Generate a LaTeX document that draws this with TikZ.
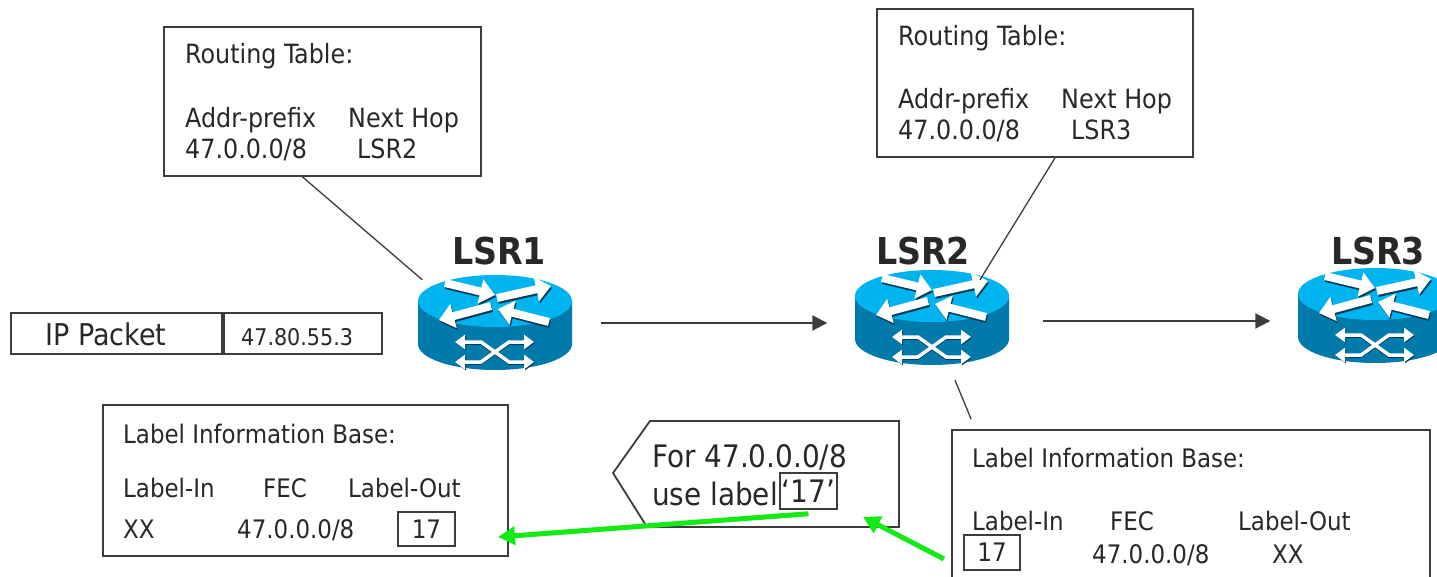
\documentclass[tikz,border=0pt]{standalone}
\usepackage{fontspec}
\setmainfont{DejaVu Sans Condensed}
\usepackage{tikz}
\usetikzlibrary{arrows.meta}
\usetikzlibrary{positioning}
\usepackage{xcolor}
\definecolor{TextGray}{RGB}{40,40,40}
\definecolor{LineGray}{RGB}{60,60,60}
\definecolor{RouterTop}{RGB}{0,180,240}
\definecolor{RouterSide}{RGB}{0,122,170}
\definecolor{RouterShade}{RGB}{0,60,90}
\definecolor{LabelGreen}{RGB}{20,235,20}
\tikzstyle{TableBox}=[draw=LineGray,line width=1.8pt,inner sep=0pt]
\tikzstyle{KeyBox}=[draw=LineGray,line width=1.5pt,inner sep=0pt,text=TextGray]
\tikzstyle{TableText}=[anchor=base west,inner sep=0pt,text=TextGray,font=\fontsize{26.5}{30}\selectfont]
\tikzstyle{BaseText}=[TableText,font=\fontsize{25.5}{30}\selectfont]
\tikzstyle{NoteText}=[TableText,font=\fontsize{31}{36}\selectfont]
\tikzstyle{RouterName}=[anchor=base,inner sep=0pt,text=TextGray,font=\fontsize{37}{40}\selectfont\bfseries]
\tikzstyle{LinkArrow}=[draw=LineGray,line width=2pt,-{Triangle[length=15pt,width=15pt]}]
\tikzstyle{TieLine}=[draw=LineGray,line width=1.3pt]
\tikzstyle{PushArrow}=[draw=LabelGreen,line width=5pt,-{Triangle[length=17pt,width=18pt]}]
\tikzstyle{TopArrow}=[line width=8pt,-{Triangle[length=15pt,width=24pt]}]
\tikzstyle{SideArrow}=[line width=3.5pt,{Triangle[length=10pt,width=14pt]}-{Triangle[length=10pt,width=14pt]}]
\tikzset{pics/router/.style={code={
    \fill[RouterSide](-77,0)--(-77,43)arc[start angle=180,end angle=360,x radius=77pt,y radius=26pt]--(77,0)--cycle;
    \fill[RouterTop](0,0)ellipse[x radius=77pt,y radius=26pt];
    \foreach \xa/\ya/\xb/\yb in {-50/-18/0/-6,2/-3/56/-15,-4/5/-56/19,54/21/3/8}{
        \draw[TopArrow,RouterShade](\xa+1,\ya+2)--(\xb+1,\yb+2);
        \draw[TopArrow,white](\xa,\ya)--(\xb,\yb);
    }
    \draw[SideArrow,RouterShade](-39,42)--(-14,42)--(14,62)--(40,62);
    \draw[SideArrow,RouterShade](-39,62)--(-14,62)--(14,42)--(40,42);
    \draw[SideArrow,white](-40,41)--(-14,41)--(14,61)--(39,61);
    \draw[SideArrow,white](-40,61)--(-14,61)--(14,41)--(39,41);
    \node[inner sep=0pt,minimum width=155pt,minimum height=96pt](-box)at(0,22){};
}}}

\begin{document}
\begin{tikzpicture}[x=1pt,y=-1pt]
        \clip(0,0)rectangle(1437,577);
        \fill[white](0,0)rectangle(1437,577);
        % routers
        \pic(r1)at(495,301){router};
        \pic(r2)at(932,296){router};
        \pic(r3)at(1375,294){router};
        \node[RouterName](lsr1)at(499,265){LSR1};
        \node[RouterName](lsr2)at(923,265){LSR2};
        \node[RouterName](lsr3)at(1378,265){LSR3};
        \draw[LinkArrow,shorten <=28pt,shorten >=27pt](r1-box.east)--(r1-box.east-|r2-box.west);
        \draw[LinkArrow,shorten <=33pt,shorten >=27pt]([yshift=-3pt]r2-box.east)--([yshift=-3pt]r2-box.east-|r3-box.west);
        % routing tables
        \node[TableBox,minimum width=317pt,minimum height=149pt](rt1)at(322.5,101.5){};
        \node[TableText](rt1title)at(185,64){Routing Table:};
        \node[TableText](rt1head)at(185,128){Addr-prefix};
        \node[TableText](rt1hop)at(348,128){Next Hop};
        \node[TableText](rt1fec)at(185,159){47.0.0.0/8};
        \node[TableText](rt1next)at(357,159){LSR2};
        \node[TableBox,minimum width=316pt,minimum height=148pt](rt2)at(1035,83){};
        \node[TableText](rt2title)at(898,46){Routing Table:};
        \node[TableText](rt2head)at(898,109){Addr-prefix};
        \node[TableText](rt2hop)at(1061,109){Next Hop};
        \node[TableText](rt2fec)at(898,140){47.0.0.0/8};
        \node[TableText](rt2next)at(1071,140){LSR3};
        \draw[TieLine]([xshift=-20pt]rt1.south)--([xshift=5pt,yshift=-5pt]r1-box.north west);
        \draw[TieLine]([xshift=20pt]rt2.south)--([xshift=48pt,yshift=-10pt]r2-box.north);
        % packet
        \node[TableBox,minimum width=211pt,minimum height=41pt](ip)at(116.5,333.5){};
        \node[TableBox,minimum width=158pt,minimum height=41pt,right=0pt of ip](ipaddr){};
        \node[TableText,anchor=base,font=\fontsize{30}{34}\selectfont](iptext)at(106,345){IP Packet};
        \node[TableText,font=\fontsize{23}{28}\selectfont](ipdest)at(241,345){47.80.55.3};
        % label information bases
        \node[TableBox,minimum width=405pt,minimum height=151pt](lib1)at(305.5,480.5){};
        \node[BaseText](lib1title)at(123,443){Label Information Base:};
        \node[BaseText](lib1in)at(123,497){Label-In};
        \node[BaseText](lib1fec)at(263,497){FEC};
        \node[BaseText](lib1out)at(348,497){Label-Out};
        \node[BaseText](lib1xx)at(123,538){XX};
        \node[BaseText](lib1pfx)at(237,538){47.0.0.0/8};
        \node[KeyBox,font=\fontsize{25.5}{30}\selectfont,minimum width=57pt,minimum height=34pt](k17a)at(426.5,529){17};
        \node[TableBox,minimum width=478pt,minimum height=170pt](lib2)at(1191,515){};
        \node[BaseText](lib2title)at(972,467){Label Information Base:};
        \node[BaseText](lib2in)at(972,530){Label-In};
        \node[BaseText](lib2fec)at(1110,530){FEC};
        \node[BaseText](lib2out)at(1238,530){Label-Out};
        \node[BaseText](lib2pfx)at(1092,563){47.0.0.0/8};
        \node[BaseText](lib2xx)at(1272,563){XX};
        \node[KeyBox,font=\fontsize{25.5}{30}\selectfont,minimum width=56pt,minimum height=35pt](k17r)at(992,552.5){17};
        \draw[TieLine]([xshift=23pt,yshift=-14pt]r2-box.south)--([xshift=20pt,yshift=10pt]lib2.north west);
        % label mapping message
        \draw[TableBox](613,473)--(650,421)--(899,421)--(899,527)--(647,527)--cycle;
        \node[NoteText](notefor)at(652,467){For 47.0.0.0/8};
        \node[NoteText](noteuse)at(652,505){use label};
        \node[KeyBox,font=\fontsize{31}{36}\selectfont,minimum width=57pt,minimum height=36pt](k17b)at(808.5,491){‘17’};
        \coordinate(lib1tip)at(498,537);
        \coordinate(lib2tail)at(944,559);
        \coordinate(notetip)at(863,517);
        \draw[PushArrow]([yshift=-4pt]k17b.south)--(lib1tip);
        \draw[PushArrow](lib2tail)--(notetip);
    \end{tikzpicture}
\end{document}
